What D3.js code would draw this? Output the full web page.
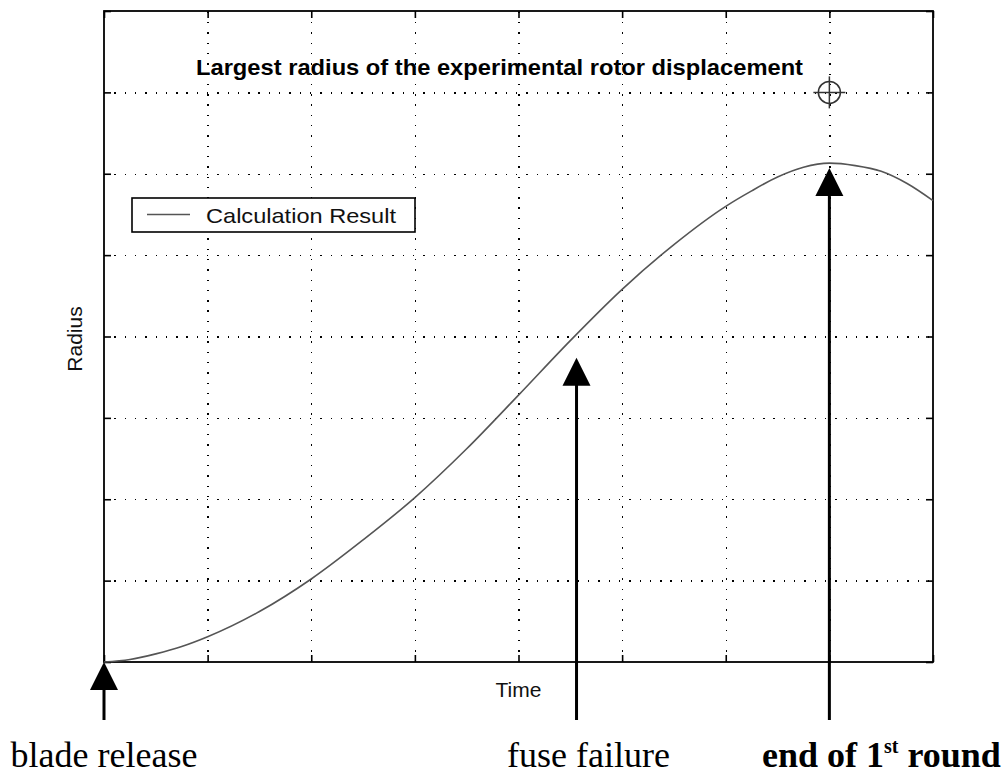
<!DOCTYPE html>
<html>
<head>
<meta charset="utf-8">
<script src="https://cdn.jsdelivr.net/npm/d3@7"></script>
<style>
  html, body { margin: 0; padding: 0; background: #fff; }
  svg { display: block; }
</style>
</head>
<body>
<svg id="chart" width="1005" height="774"></svg>
<script>
// ---- data ----
const times  = [0, 0.25, 0.5, 0.75, 1, 1.5, 2, 2.5, 3, 3.5, 4, 4.5, 5, 5.5, 6, 6.25, 6.5, 6.75, 7, 7.25, 7.5, 7.75, 8];
const radius = [0, 0.03, 0.1, 0.19, 0.31, 0.62, 1.02, 1.5, 2.02, 2.62, 3.28, 3.95, 4.58, 5.13, 5.6, 5.79, 5.96, 6.08, 6.13, 6.10, 6.03, 5.88, 5.67];
const xTickValues = [0, 1, 2, 3, 4, 5, 6, 7, 8];
const yTickValues = [0, 1, 2, 3, 4, 5, 6, 7, 8];
const markerTime = [7];
const markerRadius = [7];
const arrowTimes = [0, 4.56, 7];
const arrowTipRadius = [0, 3.74, 6.07];
const arrowLabels = ["blade release", "fuse failure", "end of 1"];
const titleText = "Largest radius of the experimental rotor displacement";
const xLabel = "Time";
const yLabel = "Radius";
const legendLabel = "Calculation Result";

// ---- layout ----
const svg = d3.select("#chart");
const L = 104, R = 933, T = 11, B = 662;
const x = d3.scaleLinear().domain([0, 8]).range([L, R]);
const y = d3.scaleLinear().domain([0, 8]).range([B, T]);
const sans = "'Liberation Sans', Arial, Helvetica, sans-serif";
const serif = "'Liberation Serif', 'Times New Roman', serif";

// grid
const gridX = svg.append("g").attr("transform", `translate(0,${B})`)
  .call(d3.axisBottom(x).tickValues(xTickValues.slice(1, -1)).tickSize(-(B - T)).tickFormat(""));
const gridY = svg.append("g").attr("transform", `translate(${L},0)`)
  .call(d3.axisLeft(y).tickValues(yTickValues.slice(1, -1)).tickSize(-(R - L)).tickFormat(""));
[gridX, gridY].forEach(g => {
  g.select(".domain").remove();
  g.selectAll("line").attr("stroke", "#000").attr("stroke-width", 1.4)
    .attr("stroke-dasharray", "1.4,8.9").attr("shape-rendering", "crispEdges");
});

// inward ticks on all sides
const tk = 7;
const axes = [
  svg.append("g").attr("transform", `translate(0,${B})`).call(d3.axisBottom(x).tickValues(xTickValues).tickSize(-tk).tickFormat("")),
  svg.append("g").attr("transform", `translate(0,${T})`).call(d3.axisTop(x).tickValues(xTickValues).tickSize(-tk).tickFormat("")),
  svg.append("g").attr("transform", `translate(${L},0)`).call(d3.axisLeft(y).tickValues(yTickValues).tickSize(-tk).tickFormat("")),
  svg.append("g").attr("transform", `translate(${R},0)`).call(d3.axisRight(y).tickValues(yTickValues).tickSize(-tk).tickFormat(""))
];
axes.forEach(g => {
  g.select(".domain").remove();
  g.selectAll("line").attr("stroke", "#000").attr("stroke-width", 1.6);
});

// frame
svg.append("rect").attr("x", L).attr("y", T).attr("width", R - L).attr("height", B - T)
  .attr("fill", "none").attr("stroke", "#000").attr("stroke-width", 1.8);

// curve
const pts = times.map((t, i) => [t, radius[i]]);
svg.append("path").datum(pts)
  .attr("fill", "none").attr("stroke", "#555").attr("stroke-width", 1.6)
  .attr("d", d3.line().x(d => x(d[0])).y(d => y(d[1])).curve(d3.curveMonotoneX));

// crosshair marker
markerTime.forEach((t, i) => {
  const cx = x(t), cy = y(markerRadius[i]);
  const g = svg.append("g").attr("stroke", "#333").attr("stroke-width", 1.5).attr("fill", "none");
  g.append("circle").attr("cx", cx).attr("cy", cy).attr("r", 11);
  g.append("line").attr("x1", cx - 16).attr("x2", cx + 16).attr("y1", cy).attr("y2", cy);
  g.append("line").attr("x1", cx).attr("x2", cx).attr("y1", cy - 16).attr("y2", cy + 16);
});

// title
svg.append("text").attr("x", 196).attr("y", 75)
  .attr("font-family", sans).attr("font-weight", "bold").attr("font-size", 22)
  .attr("textLength", 607).attr("lengthAdjust", "spacingAndGlyphs")
  .text(titleText);

// legend
svg.append("rect").attr("x", 132).attr("y", 198).attr("width", 283).attr("height", 34)
  .attr("fill", "#fff").attr("stroke", "#000").attr("stroke-width", 1.6);
svg.append("line").attr("x1", 147).attr("x2", 190).attr("y1", 214.5).attr("y2", 214.5)
  .attr("stroke", "#555").attr("stroke-width", 1.6);
svg.append("text").attr("x", 206).attr("y", 223).attr("font-family", sans).attr("font-size", 21)
  .attr("textLength", 190).attr("lengthAdjust", "spacingAndGlyphs").attr("fill", "#111")
  .text(legendLabel);

// axis labels
svg.append("text").attr("x", (L + R) / 2).attr("y", 697).attr("text-anchor", "middle")
  .attr("font-family", sans).attr("font-size", 21).attr("fill", "#111").text(xLabel);
svg.append("text").attr("transform", `translate(82,339) rotate(-90)`).attr("text-anchor", "middle")
  .attr("font-family", sans).attr("font-size", 21).attr("fill", "#111").text(yLabel);

// arrows
const tailY = y(0) + 58;
arrowTimes.forEach((t, i) => {
  const ax = x(t), tip = y(arrowTipRadius[i]);
  svg.append("path")
    .attr("d", `M${ax},${tip} L${ax - 14},${tip + 28} L${ax + 14},${tip + 28} Z`)
    .attr("fill", "#000");
  svg.append("line").attr("x1", ax).attr("x2", ax).attr("y1", tip + 26).attr("y2", tailY)
    .attr("stroke", "#000").attr("stroke-width", 3);
});

// arrow labels
const labelAnchors = [[x(arrowTimes[0]), "middle"], [x(arrowTimes[1]) + 12, "middle"], [762, "start"]];
arrowLabels.forEach((lab, i) => {
  const t = svg.append("text").attr("x", labelAnchors[i][0]).attr("y", 767)
    .attr("text-anchor", labelAnchors[i][1])
    .attr("font-family", serif).attr("font-size", 36).attr("fill", "#000");
  if (i === 2) {
    t.attr("font-weight", "bold");
    t.append("tspan").text(lab);
    t.append("tspan").attr("font-size", 20).attr("dy", -14).text("st");
    t.append("tspan").attr("dy", 14).text(" round");
  } else {
    t.text(lab);
  }
});
</script>
</body>
</html>
